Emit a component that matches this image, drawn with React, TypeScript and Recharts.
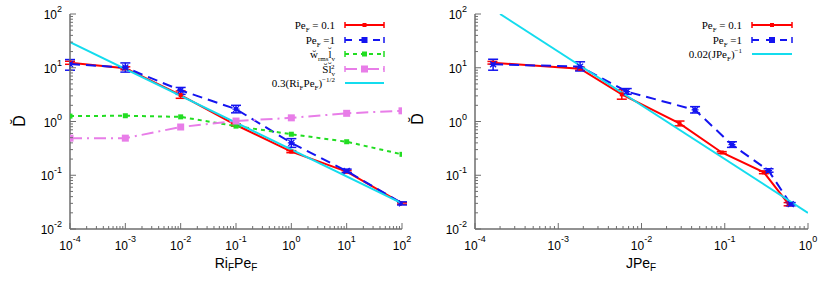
import React from 'react';
import { LineChart, Line, XAxis, YAxis, ErrorBar, Legend } from 'recharts';

// ---------------- data ----------------
// left panel: x = Ri_F Pe_F
const riX = [1e-4, 1e-3, 1e-2, 1e-1, 1, 10, 100];
const leftRedY = [12.4, 9.8, 3.1, 0.86, 0.275, 0.117, 0.03];
const leftRedErr = [[0.8, 0.8], [0.6, 0.6], [0.4, 0.6], [0.04, 0.04], [0.012, 0.012], [0.005, 0.005], [0.001, 0.001]];
const leftBlueY = [11.7, 10.1, 3.8, 1.7, 0.4, 0.12, 0.03];
const leftBlueErr = [[2.7, 2.5], [1.8, 2.2], [0.6, 0.5], [0.25, 0.3], [0.07, 0.08], [0.008, 0.01], [0.002, 0.002]];
const leftGreenY = [1.26, 1.28, 1.22, 0.82, 0.58, 0.42, 0.245];
const leftVioletY = [0.49, 0.49, 0.79, 1.02, 1.17, 1.42, 1.58];
const leftFitX = [1e-4, 100];
const leftFitY = [30, 0.03];

// right panel: x = J Pe_F
const jRedX = [1.62e-4, 1.83e-3, 5.8e-3, 0.0286, 0.092, 0.295, 0.585];
const jRedY = [12.4, 9.6, 3.2, 0.92, 0.265, 0.113, 0.029];
const jRedErr = [[0.7, 0.7], [0.6, 0.6], [0.6, 0.7], [0.09, 0.1], [0.01, 0.01], [0.006, 0.006], [0.002, 0.002]];
const jBlueX = [1.65e-4, 1.83e-3, 6.65e-3, 0.044, 0.122, 0.336, 0.62];
const jBlueY = [11.6, 10.5, 3.6, 1.64, 0.37, 0.122, 0.029];
const jBlueErr = [[2.6, 2.8], [1.8, 2.4], [0.4, 0.5], [0.2, 0.25], [0.04, 0.05], [0.008, 0.01], [0.002, 0.002]];
const jFitX = [2e-4, 1];
const jFitY = [100, 0.02];

// ---------------- style ----------------
const SANS = '"Liberation Sans", Arial, Helvetica, sans-serif';
const SERIF = '"Liberation Serif", "Times New Roman", serif';
const FRAME = '#6e6e6e';
const RED = '#ff0000';
const BLUE = '#1414f0';
const GREEN = '#22dd22';
const VIOLET = '#e87de8';
const CYAN = '#14dcee';

const H = 282;
const LEFT_W = 420;
const RIGHT_X = 400;
const RIGHT_W = 431;

const rows = (xs: number[], ys: number[], errs?: number[][]) =>
  xs.map((x, i) => ({ x, y: ys[i], err: errs ? errs[i] : undefined }));

const isMajor = (v: number) => {
  const l = Math.log10(v);
  return Math.abs(l - Math.round(l)) < 1e-6;
};
const logTicks = (lo: number, hi: number) => {
  const out: number[] = [];
  for (let e = lo; e <= hi; e++) {
    for (let m = 1; m <= 9; m++) {
      if (e === hi && m > 1) break;
      out.push(Number((m * Math.pow(10, e)).toPrecision(6)));
    }
  }
  return out;
};

const xTicksL = logTicks(-4, 2);
const xTicksR = logTicks(-4, 0);
const yTicks = logTicks(-2, 2);

const MAJ = 6;
const MIN = 3;

const BottomTick = (p: any) => {
  const v = p.payload.value;
  const major = isMajor(v);
  return (
    <g>
      <line x1={p.x} x2={p.x} y1={p.y} y2={p.y - (major ? MAJ : MIN)} stroke={FRAME} strokeWidth={1} />
      {major && (
        <text x={p.x} y={p.y + 21} textAnchor="middle" fontFamily={SANS} fontSize={12} fill="#000">
          10<tspan dy={-8} fontSize={9}>{String(Math.round(Math.log10(v)))}</tspan>
        </text>
      )}
    </g>
  );
};
const TopTick = (p: any) => {
  const major = isMajor(p.payload.value);
  return <line x1={p.x} x2={p.x} y1={p.y} y2={p.y + (major ? MAJ : MIN)} stroke={FRAME} strokeWidth={1} />;
};
const LeftTick = (p: any) => {
  const v = p.payload.value;
  const major = isMajor(v);
  return (
    <g>
      <line x1={p.x} x2={p.x + (major ? MAJ : MIN)} y1={p.y} y2={p.y} stroke={FRAME} strokeWidth={1} />
      {major && (
        <text x={p.x - 8} y={p.y + 5} textAnchor="end" fontFamily={SANS} fontSize={12} fill="#000">
          10<tspan dy={-7} fontSize={9}>{String(Math.round(Math.log10(v)))}</tspan>
        </text>
      )}
    </g>
  );
};
const RightTick = (p: any) => {
  const major = isMajor(p.payload.value);
  return <line x1={p.x} x2={p.x - (major ? MAJ : MIN)} y1={p.y} y2={p.y} stroke={FRAME} strokeWidth={1} />;
};

const square = (c: string, s: number) => (p: any) =>
  p.cx == null ? <g key={`e${p.index}`} /> : (
    <rect key={`s${p.index}`} x={p.cx - s / 2} y={p.cy - s / 2} width={s} height={s} fill={c} />
  );
const star = (c: string) => (p: any) =>
  p.cx == null ? <g key={`e${p.index}`} /> : (
    <g key={`t${p.index}`}>
      <rect x={p.cx - 2} y={p.cy - 2} width={4} height={4} fill={c} />
      <path d={`M${p.cx - 3.5},${p.cy}H${p.cx + 3.5}M${p.cx - 3},${p.cy - 3}L${p.cx + 3},${p.cy + 3}M${p.cx - 3},${p.cy + 3}L${p.cx + 3},${p.cy - 3}`} stroke={c} strokeWidth={1.3} />
    </g>
  );

const axisLine = { stroke: FRAME, strokeWidth: 1.5 };

const Sample = ({ x1, x2, y, color, dash, marker, caps = true, width = 2 }: any) => {
  const xm = (x1 + x2) / 2;
  return (
    <g>
      <line x1={x1} x2={x2} y1={y} y2={y} stroke={color} strokeWidth={width} strokeDasharray={dash} />
      {caps && (
        <path d={`M${x1},${y - 3}V${y + 3}M${x2},${y - 3}V${y + 3}`} stroke={color} strokeWidth={1.5} />
      )}
      {marker === 'small' && <rect x={xm - 2} y={y - 2} width={4} height={4} fill={color} />}
      {marker === 'star' && <rect x={xm - 3} y={y - 3} width={6} height={6} fill={color} />}
      {marker === 'sq5' && <rect x={xm - 2.5} y={y - 2.5} width={5} height={5} fill={color} />}
      {marker === 'sq7' && <rect x={xm - 3.5} y={y - 3.5} width={7} height={7} fill={color} />}
    </g>
  );
};

const LeftLegend = () => {
  const tx = 335, s1 = 345, s2 = 384;
  const ys = [25, 40, 54, 69, 83];
  const t = { fontFamily: SERIF, fontSize: 11, textAnchor: 'end' as const, fill: '#000' };
  return (
    <svg width={LEFT_W} height={H} style={{ display: 'block', overflow: 'visible' }}>
      <text x={tx} y={ys[0] + 4} {...t}>Pe<tspan dy={3} fontSize={7}>F</tspan><tspan dy={-3}> = 0.1</tspan></text>
      <Sample x1={s1} x2={s2} y={ys[0]} color={RED} marker="small" />
      <text x={tx} y={ys[1] + 4} {...t}>Pe<tspan dy={3} fontSize={7}>F</tspan><tspan dy={-3}> =1</tspan></text>
      <Sample x1={s1} x2={s2} y={ys[1]} color={BLUE} dash="7 7" marker="star" />
      <text x={tx} y={ys[2] + 4} {...t}>{'w\u0306'}<tspan dy={2.5} fontSize={7}>rms</tspan><tspan dy={-2.5}>{'l\u0306'}</tspan><tspan dy={2.5} fontSize={7}>v</tspan></text>
      <Sample x1={s1} x2={s2} y={ys[2]} color={GREEN} dash="4 4" marker="sq5" />
      <text x={tx} y={ys[3] + 4} {...t}>{'S\u0306l\u0306'}<tspan dy={2.5} fontSize={7}>v</tspan><tspan dx={-4} dy={-7} fontSize={7}>2</tspan></text>
      <Sample x1={s1} x2={s2} y={ys[3]} color={VIOLET} dash="12 4 2 4" marker="sq7" />
      <text x={tx} y={ys[4] + 4} {...t}>0.3(Ri<tspan dy={3} fontSize={7}>F</tspan><tspan dy={-3}>Pe</tspan><tspan dy={3} fontSize={7}>F</tspan><tspan dy={-3}>)</tspan><tspan dy={-5} fontSize={7}>{'\u22121/2'}</tspan></text>
      <Sample x1={s1} x2={s2} y={ys[4]} color={CYAN} caps={false} />
    </svg>
  );
};

const RightLegend = () => {
  const tx = 342, s1 = 352, s2 = 392;
  const ys = [25, 40, 54];
  const t = { fontFamily: SERIF, fontSize: 11, textAnchor: 'end' as const, fill: '#000' };
  return (
    <svg width={RIGHT_W} height={H} style={{ display: 'block', overflow: 'visible' }}>
      <text x={tx} y={ys[0] + 4} {...t}>Pe<tspan dy={3} fontSize={7}>F</tspan><tspan dy={-3}> = 0.1</tspan></text>
      <Sample x1={s1} x2={s2} y={ys[0]} color={RED} marker="small" />
      <text x={tx} y={ys[1] + 4} {...t}>Pe<tspan dy={3} fontSize={7}>F</tspan><tspan dy={-3}> =1</tspan></text>
      <Sample x1={s1} x2={s2} y={ys[1]} color={BLUE} dash="7 7" marker="star" />
      <text x={tx} y={ys[2] + 4} {...t}>0.02(JPe<tspan dy={3} fontSize={7}>F</tspan><tspan dy={-3}>)</tspan><tspan dy={-5} fontSize={7}>{'\u22121'}</tspan></text>
      <Sample x1={s1} x2={s2} y={ys[2]} color={CYAN} caps={false} />
    </svg>
  );
};

const DLabel = (x: number, y: number) => () => (
  <text x={x} y={y} transform={`rotate(-90 ${x} ${y})`} textAnchor="middle" fontFamily={SANS} fontSize={16} fill="#000">
    {'D\u0306'}
  </text>
);

const XTitle = (x: number, main: string) => () => (
  <text x={x} y={268} textAnchor="middle" fontFamily={SANS} fontSize={14} fill="#000">
    {main === 'Ri' ? (
      <>Ri<tspan dy={3} fontSize={10}>F</tspan><tspan dy={-3}>Pe</tspan><tspan dy={3} fontSize={10}>F</tspan></>
    ) : (
      <>JPe<tspan dy={3} fontSize={10}>F</tspan></>
    )}
  </text>
);

const Axes = ({ xDomain, xTicks, xTitle, dLabel }: any) => [
  <XAxis key="xb" dataKey="x" type="number" scale="log" domain={xDomain} allowDataOverflow ticks={xTicks} interval={0}
    tick={(p: any) => <BottomTick {...p} />} tickLine={false} tickSize={0} tickMargin={0} axisLine={axisLine} height={40}
    label={xTitle} />,
  <XAxis key="xt" xAxisId="top" orientation="top" dataKey="x" type="number" scale="log" domain={xDomain} allowDataOverflow ticks={xTicks} interval={0}
    tick={(p: any) => <TopTick {...p} />} tickLine={false} tickSize={0} tickMargin={0} axisLine={axisLine} height={0} />,
  <YAxis key="yl" type="number" scale="log" domain={[0.01, 100]} allowDataOverflow ticks={yTicks} interval={0}
    tick={(p: any) => <LeftTick {...p} />} tickLine={false} tickSize={0} tickMargin={0} axisLine={axisLine} width={50}
    label={dLabel} />,
  <YAxis key="yr" yAxisId="right" orientation="right" type="number" scale="log" domain={[0.01, 100]} allowDataOverflow ticks={yTicks} interval={0}
    tick={(p: any) => <RightTick {...p} />} tickLine={false} tickSize={0} tickMargin={0} axisLine={axisLine} width={0} />,
];

export default function App() {
  const lRed = rows(riX, leftRedY, leftRedErr);
  const lBlue = rows(riX, leftBlueY, leftBlueErr);
  const lGreen = rows(riX, leftGreenY);
  const lViolet = rows(riX, leftVioletY);
  const lFit = rows(leftFitX, leftFitY);
  const rRed = rows(jRedX, jRedY, jRedErr);
  const rBlue = rows(jBlueX, jBlueY, jBlueErr);
  const rFit = rows(jFitX, jFitY);

  return (
    <div style={{ position: 'absolute', left: 0, top: 0, width: 831, height: H, background: '#fff' }}>
      <div style={{ position: 'absolute', left: 0, top: 0 }}>
        <LineChart width={LEFT_W} height={H} margin={{ top: 14, right: LEFT_W - 402, bottom: 13, left: 20 }}>
          {Axes({ xDomain: [1e-4, 100], xTicks: xTicksL, xTitle: XTitle(236, 'Ri'), dLabel: DLabel(25, 121) })}
          <Line data={lRed} dataKey="y" stroke={RED} strokeWidth={2} dot={square(RED, 4)} activeDot={false} isAnimationActive={false}>
            <ErrorBar dataKey="err" width={5} stroke={RED} strokeWidth={1.5} direction="y" />
          </Line>
          <Line data={lBlue} dataKey="y" stroke={BLUE} strokeWidth={2} strokeDasharray="10 6" dot={star(BLUE)} activeDot={false} isAnimationActive={false}>
            <ErrorBar dataKey="err" width={5} stroke={BLUE} strokeWidth={1.5} direction="y" />
          </Line>
          <Line data={lGreen} dataKey="y" stroke={GREEN} strokeWidth={2} strokeDasharray="4 4" dot={square(GREEN, 5)} activeDot={false} isAnimationActive={false} />
          <Line data={lViolet} dataKey="y" stroke={VIOLET} strokeWidth={2} strokeDasharray="12 5 2 5" dot={square(VIOLET, 7)} activeDot={false} isAnimationActive={false} />
          <Line data={lFit} dataKey="y" stroke={CYAN} strokeWidth={2} dot={false} activeDot={false} isAnimationActive={false} />
          <Legend content={() => <LeftLegend />} layout="horizontal" verticalAlign="middle" align="center"
            wrapperStyle={{ left: 0, top: 0, width: LEFT_W, height: H, pointerEvents: 'none' }} />
        </LineChart>
      </div>
      <div style={{ position: 'absolute', left: RIGHT_X, top: 0 }}>
        <LineChart width={RIGHT_W} height={H} margin={{ top: 14, right: RIGHT_W - (808 - RIGHT_X), bottom: 13, left: 475 - RIGHT_X - 50 }}>
          {Axes({ xDomain: [1e-4, 1], xTicks: xTicksR, xTitle: XTitle(641 - RIGHT_X, 'J'), dLabel: DLabel(423 - RIGHT_X, 119) })}
          <Line data={rRed} dataKey="y" stroke={RED} strokeWidth={2} dot={square(RED, 4)} activeDot={false} isAnimationActive={false}>
            <ErrorBar dataKey="err" width={5} stroke={RED} strokeWidth={1.5} direction="y" />
          </Line>
          <Line data={rBlue} dataKey="y" stroke={BLUE} strokeWidth={2} strokeDasharray="10 6" dot={star(BLUE)} activeDot={false} isAnimationActive={false}>
            <ErrorBar dataKey="err" width={5} stroke={BLUE} strokeWidth={1.5} direction="y" />
          </Line>
          <Line data={rFit} dataKey="y" stroke={CYAN} strokeWidth={2} dot={false} activeDot={false} isAnimationActive={false} />
          <Legend content={() => <RightLegend />} layout="horizontal" verticalAlign="middle" align="center"
            wrapperStyle={{ left: 0, top: 0, width: RIGHT_W, height: H, pointerEvents: 'none' }} />
        </LineChart>
      </div>
    </div>
  );
}
